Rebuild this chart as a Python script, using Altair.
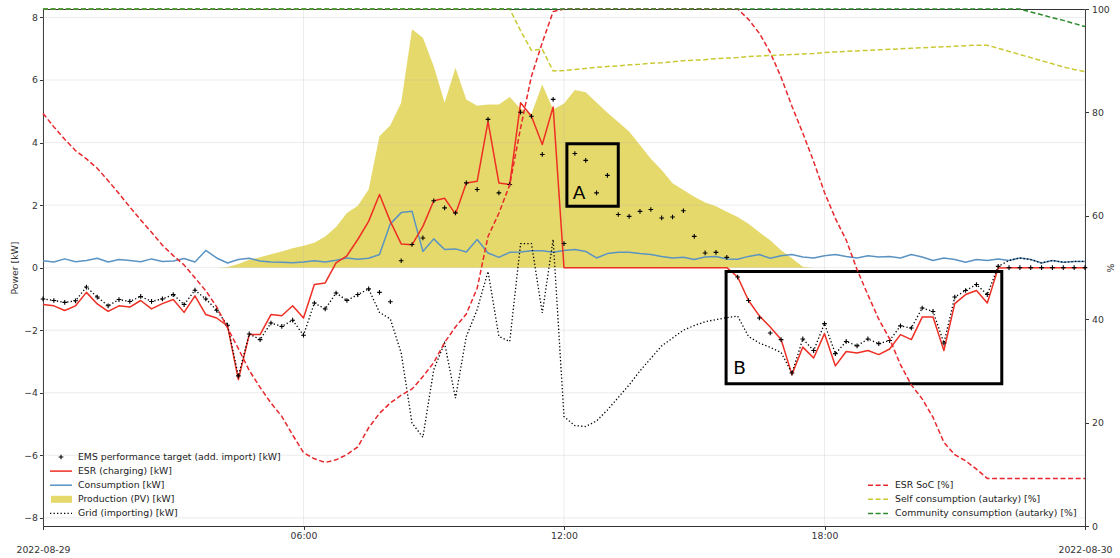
import altair as alt
import pandas as pd

# 15-minute samples over 2022-08-29, closing at midnight of the next day
times = [
    f"2022-08-{29 + i // 96}T{(i % 96) // 4:02d}:{(i % 4) * 15:02d}:00Z" for i in range(97)
]

ems_target = [
    -1.00, -1.05, -1.11, -1.06, -0.62, -0.94, -1.22, -1.02, -1.08, -0.92,
    -1.08, -1.00, -0.86, -1.18, -0.72, -1.00, -1.36, -1.84, -3.46, -2.12,
    -2.30, -1.77, -1.88, -1.68, -2.16, -1.13, -1.32, -0.81, -1.05, -0.86,
    -0.68, -0.79, -1.09, 0.22, 0.74, 0.95, 2.14, 1.91, 1.75, 2.71,
    2.50, 4.74, 2.39, 2.66, 4.97, 4.84, 3.62, 5.38, 0.77, 3.65,
    3.43, 2.39, 2.95, 1.70, 1.64, 1.80, 1.86, 1.59, 1.62, 1.82,
    1.00, 0.47, 0.49, 0.33, -0.30, -1.05, -1.61, -2.09, -2.30, -3.37,
    -2.28, -2.65, -1.79, -2.75, -2.36, -2.50, -2.28, -2.43, -2.33, -1.86,
    -1.93, -1.29, -1.40, -2.41, -0.94, -0.73, -0.54, -0.86, 0.04, 0.00,
    0.00, 0.00, 0.00, 0.00, 0.00, 0.00, 0.00,
]

esr_charging = [
    -1.18, -1.22, -1.37, -1.22, -0.79, -1.16, -1.40, -1.22, -1.26, -1.05,
    -1.32, -1.15, -1.02, -1.43, -0.90, -1.50, -1.61, -1.86, -3.58, -2.14,
    -2.14, -1.50, -1.54, -1.22, -1.61, -0.54, -0.49, 0.15, 0.38, 0.90,
    1.48, 2.34, 1.48, 0.76, 0.73, 1.32, 2.14, 2.22, 1.71, 2.71,
    2.76, 4.68, 2.71, 2.66, 5.27, 4.84, 3.94, 5.14, 0.00, 0.00,
    0.00, 0.00, 0.00, 0.00, 0.00, 0.00, 0.00, 0.00, 0.00, 0.00,
    0.00, 0.00, 0.00, 0.00, -0.30, -1.05, -1.54, -1.90, -2.30, -3.42,
    -2.54, -2.89, -2.11, -3.14, -2.68, -2.73, -2.65, -2.78, -2.60, -2.14,
    -2.30, -1.58, -1.58, -2.65, -1.15, -0.86, -0.73, -1.13, -0.01, 0.00,
    0.00, 0.00, 0.00, 0.00, 0.00, 0.00, 0.00,
]

consumption = [
    0.22, 0.18, 0.28, 0.19, 0.23, 0.30, 0.18, 0.26, 0.23, 0.19,
    0.28, 0.20, 0.21, 0.29, 0.18, 0.55, 0.31, 0.15, 0.26, 0.30,
    0.21, 0.18, 0.17, 0.16, 0.18, 0.22, 0.18, 0.24, 0.31, 0.27,
    0.30, 0.42, 1.40, 1.76, 1.80, 0.52, 0.92, 0.58, 0.60, 0.50,
    0.90, 0.47, 0.33, 0.49, 0.50, 0.54, 0.54, 0.49, 0.55, 0.58,
    0.52, 0.31, 0.45, 0.49, 0.49, 0.45, 0.42, 0.36, 0.31, 0.33,
    0.26, 0.34, 0.36, 0.28, 0.27, 0.36, 0.42, 0.30, 0.38, 0.42,
    0.34, 0.31, 0.38, 0.42, 0.36, 0.31, 0.38, 0.34, 0.36, 0.31,
    0.42, 0.34, 0.23, 0.31, 0.26, 0.17, 0.26, 0.23, 0.28, 0.23,
    0.31, 0.26, 0.15, 0.23, 0.17, 0.20, 0.20,
]

production_pv = [
    0.00, 0.00, 0.00, 0.00, 0.00, 0.00, 0.00, 0.00, 0.00, 0.00,
    0.00, 0.00, 0.00, 0.00, 0.00, 0.00, 0.00, 0.02, 0.12, 0.25,
    0.33, 0.43, 0.52, 0.62, 0.70, 0.80, 1.00, 1.30, 1.75, 1.98,
    2.50, 4.20, 4.55, 5.27, 7.62, 7.35, 6.44, 5.27, 6.39, 5.38,
    5.18, 5.22, 5.22, 5.46, 5.08, 4.92, 5.86, 5.06, 5.25, 5.68,
    5.61, 5.28, 4.95, 4.66, 4.35, 3.92, 3.48, 3.12, 2.70, 2.48,
    2.27, 2.08, 1.96, 1.79, 1.62, 1.40, 1.13, 0.88, 0.56, 0.30,
    0.03, 0.00, 0.00, 0.00, 0.00, 0.00, 0.00, 0.00, 0.00, 0.00,
    0.00, 0.00, 0.00, 0.00, 0.00, 0.00, 0.00, 0.00, 0.00, 0.00,
    0.00, 0.00, 0.00, 0.00, 0.00, 0.00, 0.00,
]

grid_import = [
    -1.00, -1.05, -1.11, -1.06, -0.62, -0.94, -1.22, -1.02, -1.08, -0.92,
    -1.08, -1.00, -0.86, -1.18, -0.72, -1.00, -1.36, -1.84, -3.46, -2.12,
    -2.30, -1.77, -1.88, -1.68, -2.16, -1.13, -1.32, -0.81, -1.05, -0.86,
    -0.68, -1.43, -1.64, -2.73, -4.97, -5.42, -3.26, -2.41, -4.17, -2.20,
    -1.34, -0.12, -2.20, -2.36, 0.77, 0.77, -1.45, 0.90, -4.76, -5.05,
    -5.08, -4.90, -4.55, -4.15, -3.75, -3.30, -2.90, -2.50, -2.25, -2.00,
    -1.85, -1.73, -1.66, -1.60, -1.55, -2.20, -2.41, -2.55, -2.71, -3.37,
    -2.28, -2.65, -1.79, -2.75, -2.36, -2.50, -2.28, -2.43, -2.33, -1.86,
    -1.93, -1.29, -1.40, -2.41, -0.94, -0.73, -0.54, -0.86, 0.04, 0.23,
    0.31, 0.26, 0.15, 0.23, 0.17, 0.20, 0.20,
]

esr_soc = [
    79.8, 77.2, 74.8, 72.6, 71.0, 69.2, 66.8, 64.3, 61.7, 59.2,
    56.8, 54.3, 52.3, 50.5, 48.0, 45.5, 42.4, 38.3, 34.3, 30.1,
    26.8, 23.8, 21.2, 17.6, 14.2, 13.0, 12.3, 12.8, 13.8, 15.3,
    19.0, 21.8, 23.8, 25.3, 26.5, 28.9, 31.6, 35.5, 38.5, 41.0,
    46.0, 56.0, 60.5, 66.0, 77.0, 87.0, 93.5, 99.5, 100.0, 100.0,
    100.0, 100.0, 100.0, 100.0, 100.0, 100.0, 100.0, 100.0, 100.0, 100.0,
    100.0, 100.0, 100.0, 100.0, 100.0, 98.0, 95.3, 91.6, 86.8, 81.2,
    76.0, 70.5, 64.5, 59.5, 55.3, 49.6, 44.7, 40.0, 36.2, 31.2,
    27.3, 24.6, 21.0, 16.2, 13.8, 12.6, 11.0, 9.2, 9.2, 9.2,
    9.2, 9.2, 9.2, 9.2, 9.2, 9.2, 9.2,
]

self_consumption = [
    100.0, 100.0, 100.0, 100.0, 100.0, 100.0, 100.0, 100.0, 100.0, 100.0,
    100.0, 100.0, 100.0, 100.0, 100.0, 100.0, 100.0, 100.0, 100.0, 100.0,
    100.0, 100.0, 100.0, 100.0, 100.0, 100.0, 100.0, 100.0, 100.0, 100.0,
    100.0, 100.0, 100.0, 100.0, 100.0, 100.0, 100.0, 100.0, 100.0, 100.0,
    100.0, 100.0, 100.0, 100.0, 95.8, 92.0, 92.2, 88.0, 88.1, 88.3,
    88.5, 88.7, 88.9, 89.0, 89.2, 89.3, 89.5, 89.6, 89.8, 90.0,
    90.1, 90.2, 90.4, 90.5, 90.6, 90.8, 90.9, 91.0, 91.1, 91.2,
    91.3, 91.4, 91.6, 91.7, 91.8, 91.9, 92.0, 92.1, 92.2, 92.3,
    92.4, 92.5, 92.6, 92.7, 92.8, 92.9, 93.0, 93.0, 92.4, 91.8,
    91.2, 90.6, 90.0, 89.4, 88.8, 88.3, 87.9,
]

community_consumption = [
    100.0, 100.0, 100.0, 100.0, 100.0, 100.0, 100.0, 100.0, 100.0, 100.0,
    100.0, 100.0, 100.0, 100.0, 100.0, 100.0, 100.0, 100.0, 100.0, 100.0,
    100.0, 100.0, 100.0, 100.0, 100.0, 100.0, 100.0, 100.0, 100.0, 100.0,
    100.0, 100.0, 100.0, 100.0, 100.0, 100.0, 100.0, 100.0, 100.0, 100.0,
    100.0, 100.0, 100.0, 100.0, 100.0, 100.0, 100.0, 100.0, 100.0, 100.0,
    100.0, 100.0, 100.0, 100.0, 100.0, 100.0, 100.0, 100.0, 100.0, 100.0,
    100.0, 100.0, 100.0, 100.0, 100.0, 100.0, 100.0, 100.0, 100.0, 100.0,
    100.0, 100.0, 100.0, 100.0, 100.0, 100.0, 100.0, 100.0, 100.0, 100.0,
    100.0, 100.0, 100.0, 100.0, 100.0, 100.0, 100.0, 100.0, 100.0, 100.0,
    100.0, 99.4, 98.9, 98.3, 97.8, 97.2, 96.6,
]

# Highlighted periods
box_labels = ["A", "B"]
box_start = ["2022-08-29T12:04:00Z", "2022-08-29T15:44:00Z"]
box_end = ["2022-08-29T13:15:00Z", "2022-08-29T22:05:00Z"]
box_low = [1.96, -3.71]
box_high = [3.96, -0.12]
label_time = ["2022-08-29T12:12:00Z", "2022-08-29T15:54:00Z"]
label_power = [2.20, -3.39]

# Axis ticks
power_ticks = [-8, -6, -4, -2, 0, 2, 4, 6, 8]
percent_ticks = [0, 20, 40, 60, 80, 100]
time_ticks = [
    "2022-08-29T00:00:00Z", "2022-08-29T06:00:00Z", "2022-08-29T12:00:00Z",
    "2022-08-29T18:00:00Z", "2022-08-30T00:00:00Z",
]

legend_left = [
    "EMS performance target (add. import) [kW]",
    "ESR (charging) [kW]",
    "Consumption [kW]",
    "Production (PV) [kW]",
    "Grid (importing) [kW]",
]
legend_right = [
    "ESR SoC [%]",
    "Self consumption (autarky) [%]",
    "Community consumption (autarky) [%]",
]

df = pd.DataFrame({
    "time": times,
    "ems": ems_target,
    "esr": esr_charging,
    "cons": consumption,
    "pv": production_pv,
    "grid": grid_import,
    "soc": esr_soc,
    "self": self_consumption,
    "comm": community_consumption,
})
boxes = pd.DataFrame({
    "label": box_labels, "start": box_start, "end": box_end,
    "low": box_low, "high": box_high, "lt": label_time, "lp": label_power,
})

FONT = "DejaVu Sans"
RED = "#ee2f24"
SOC_RED = "#e8282c"
BLUE = "#5b93c2"
PV_FILL = "#e5d96c"
OLIVE = "#c9c934"
GREEN = "#2e8b2e"
PLUS = "M-1,0H1M0,-1V1"
MARKER_SIZE = 22

W, H = 1042, 517

def dt(day, h, m=0):
    return alt.DateTime(year=2022, month=8, date=day, hours=h, minutes=m, utc=True)

x_scale = alt.Scale(type="utc", domain=[dt(29, 0), dt(30, 0)], nice=False)
x_axis = alt.Axis(
    values=[dt(29, 0), dt(29, 6), dt(29, 12), dt(29, 18), dt(30, 0)],
    labelExpr="utchours(datum.value) == 0 ? ['', utcFormat(datum.value, '%Y-%m-%d')] : utcFormat(datum.value, '%H:%M')",
    title=None, grid=False, tickSize=3.5, labelPadding=2,
    labelFlush=False, labelOverlap=False, labelBound=False, labelLineHeight=14,
)
X = alt.X("time:T", scale=x_scale, axis=x_axis)

yl_scale = alt.Scale(domain=[-8.26, 8.27], nice=False, zero=False)
yl_axis = alt.Axis(
    values=power_ticks,
    labelExpr="replace(format(datum.value, 'd'), '-', '\u2212')",
    title="Power [kW]", grid=False, tickSize=3.5, labelPadding=2,
    titleX=-29, titleY=H / 2, titleAngle=270, titleAlign="center", titleBaseline="middle",
)
yr_scale = alt.Scale(domain=[0, 100], nice=False, zero=False)
yr_axis = alt.Axis(
    orient="right", values=percent_ticks, title="%", grid=False,
    tickSize=3.5, labelPadding=3,
    titleX=25, titleY=H / 2, titleAngle=270, titleAlign="center", titleBaseline="middle",
)

def YL(field):
    return alt.Y(f"{field}:Q", scale=yl_scale, axis=yl_axis)

def YR(field):
    return alt.Y(f"{field}:Q", scale=yr_scale, axis=yr_axis)

base = alt.Chart(df)

pv_area = base.mark_area(color=PV_FILL, opacity=1).encode(x=X, y=YL("pv"), y2=alt.datum(0))

# Grid lines sit above the PV fill but below the lines
grid_style = dict(color="#b0b0b0", opacity=0.3, strokeWidth=0.8)
h_grid = alt.Chart(pd.DataFrame({"v": power_ticks})).mark_rule(**grid_style).encode(
    y=alt.Y("v:Q", scale=yl_scale, axis=yl_axis)
)
v_grid = alt.Chart(pd.DataFrame({"t": time_ticks})).mark_rule(**grid_style).encode(
    x=alt.X("t:T", scale=x_scale, axis=x_axis)
)

cons_line = base.mark_line(color=BLUE, strokeWidth=1.5, strokeJoin="round").encode(x=X, y=YL("cons"))
esr_line = base.mark_line(color=RED, strokeWidth=1.5, strokeJoin="round").encode(x=X, y=YL("esr"))
grid_line = base.mark_line(color="black", strokeWidth=1.3, strokeDash=[1.3, 2.2]).encode(x=X, y=YL("grid"))
ems_pts = base.mark_point(
    shape=PLUS, filled=False, size=MARKER_SIZE, strokeWidth=1.1, color="black", opacity=1
).encode(x=X, y=YL("ems"))

box_base = alt.Chart(boxes)
box_rect = box_base.mark_rect(fill=None, stroke="black", strokeWidth=3).encode(
    x=alt.X("start:T", scale=x_scale, axis=x_axis), x2="end:T",
    y=alt.Y("low:Q", scale=yl_scale, axis=yl_axis), y2="high:Q",
)
box_text = box_base.mark_text(
    align="left", baseline="alphabetic", font=FONT, fontSize=18.5, color="black"
).encode(
    x=alt.X("lt:T", scale=x_scale, axis=x_axis),
    y=alt.Y("lp:Q", scale=yl_scale, axis=yl_axis),
    text="label:N",
)

left = alt.layer(pv_area, h_grid, v_grid, cons_line, esr_line, grid_line, ems_pts, box_rect, box_text)

soc_line = base.mark_line(color=SOC_RED, strokeWidth=1.5, strokeDash=[5, 2.6]).encode(x=X, y=YR("soc"))
self_line = base.mark_line(color=OLIVE, strokeWidth=1.5, strokeDash=[5, 2.6]).encode(x=X, y=YR("self"))
comm_line = base.mark_line(color=GREEN, strokeWidth=1.5, strokeDash=[5, 2.6]).encode(x=X, y=YR("comm"))

right = alt.layer(soc_line, self_line, comm_line)

# Legends, laid out in pixels inside the plot area
ROW0, ROW_STEP = 448.0, 14.1
one = alt.Data(values=[{"k": 0}])

def row_y(r):
    return ROW0 + ROW_STEP * r

def legend_text(label, x, r):
    return alt.Chart(one).mark_text(
        text=label, align="left", baseline="middle", font=FONT, fontSize=9.3, color="#222"
    ).encode(x=alt.value(x), y=alt.value(row_y(r)))

def legend_rule(x0, x1, r, color, width, dash=None):
    kw = dict(color=color, strokeWidth=width)
    if dash:
        kw["strokeDash"] = dash
    return alt.Chart(one).mark_rule(**kw).encode(
        x=alt.value(x0), x2=alt.value(x1), y=alt.value(row_y(r))
    )

leg = [
    alt.Chart(one).mark_point(
        shape=PLUS, filled=False, size=MARKER_SIZE, strokeWidth=1.1, color="black", opacity=1
    ).encode(x=alt.value(18), y=alt.value(row_y(0))),
    legend_rule(7, 29, 1, RED, 1.5),
    legend_rule(7, 29, 2, BLUE, 1.5),
    alt.Chart(one).mark_rect(color=PV_FILL, opacity=1).encode(
        x=alt.value(8), x2=alt.value(29), y=alt.value(row_y(3) - 3.5), y2=alt.value(row_y(3) + 3.5)
    ),
    legend_rule(7, 29, 4, "black", 1.3, [1.3, 2.2]),
]
leg += [legend_text(t, 35, r) for r, t in enumerate(legend_left)]
for r, (t, c) in enumerate(zip(legend_right, [SOC_RED, OLIVE, GREEN]), start=2):
    leg.append(legend_rule(825, 845, r, c, 1.5, [5, 2.6]))
    leg.append(legend_text(t, 852, r))

chart = (
    alt.layer(left, right, *leg)
    .resolve_scale(y="independent")
    .properties(
        width=W, height=H,
        autosize=alt.AutoSizeParams(type="none"),
        padding={"left": 43, "top": 9, "right": 35, "bottom": 32},
        background="white",
    )
    .configure_view(stroke="#333", strokeWidth=1)
    .configure_axis(
        domain=False, tickColor="#333", labelColor="#333", labelFont=FONT, labelFontSize=9.3,
        titleFont=FONT, titleFontSize=9.3, titleFontWeight="normal", titleColor="#333",
    )
)

chart.save("out.html", embed_options={"renderer": "svg", "actions": False})
